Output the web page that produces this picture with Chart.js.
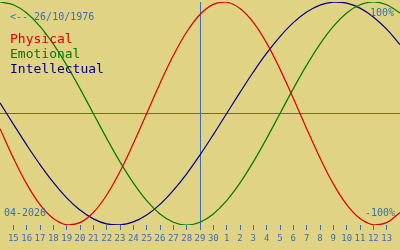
<!DOCTYPE html>
<html>
<head>
<meta charset="utf-8">
<script src="https://cdn.jsdelivr.net/npm/chart.js@4/dist/chart.umd.min.js"></script>
<style>
  html, body { margin: 0; padding: 0; background: #e1d384; }
  #wrap { width: 400px; height: 250px; position: relative; }
</style>
</head>
<body>
<div id="wrap"><canvas id="bio" width="400" height="250"></canvas></div>
<script>
// one point per day, 14 Apr .. 14 May 2026
var dayLabels = ['14','15','16','17','18','19','20','21','22','23','24','25','26','27','28','29','30',
                 '1','2','3','4','5','6','7','8','9','10','11','12','13','14'];
var physical = [-0.136, -0.398, -0.631, -0.817, -0.942, -0.998, -0.979, -0.888, -0.731, -0.520, -0.270, 0,
                0.270, 0.520, 0.731, 0.888, 0.979, 0.998, 0.942, 0.817, 0.631, 0.398, 0.136, -0.136,
                -0.398, -0.631, -0.817, -0.942, -0.998, -0.979, -0.888];
var emotional = [1.0, 0.975, 0.901, 0.782, 0.623, 0.434, 0.223, 0, -0.223, -0.434, -0.623, -0.782, -0.901,
                 -0.975, -1.0, -0.975, -0.901, -0.782, -0.623, -0.434, -0.223, 0, 0.223, 0.434, 0.623,
                 0.782, 0.901, 0.975, 1.0, 0.975, 0.901];
var intellectual = [0.095, -0.095, -0.282, -0.458, -0.618, -0.756, -0.866, -0.945, -0.990, -0.999, -0.972,
                    -0.910, -0.815, -0.690, -0.541, -0.372, -0.189, 0, 0.189, 0.372, 0.541, 0.690, 0.815,
                    0.910, 0.972, 0.999, 0.990, 0.945, 0.866, 0.756, 0.618];
var todayIndex = 15; // 29
var birthText = '<-- 26/10/1976';
var monthText = '04-2026';

var BLUE = '#3a6db3';
var mono = '"DejaVu Sans Mono", monospace';

function toPoints(arr) {
  return arr.map(function(v, i) { return { x: i, y: v }; });
}

function series(label, values, color) {
  return {
    label: label,
    data: toPoints(values),
    borderColor: color,
    borderWidth: 1.2,
    pointRadius: 0,
    tension: 0.4,
    fill: false
  };
}

var textPlugin = {
  id: 'bioText',
  afterDraw: function(chart) {
    var ctx = chart.ctx;
    ctx.save();
    ctx.textBaseline = 'alphabetic';
    ctx.font = '10px ' + mono;
    ctx.fillStyle = BLUE;
    ctx.textAlign = 'left';
    ctx.fillText(birthText, 10, 20);
    ctx.fillText(monthText, 4, 216);
    ctx.textAlign = 'right';
    ctx.fillText('100%', 394, 16);
    ctx.fillText('-100%', 395, 216);

    ctx.textAlign = 'left';
    ctx.font = '13px ' + mono;
    chart.data.datasets.forEach(function(ds, i) {
      ctx.fillStyle = ds.borderColor;
      ctx.fillText(ds.label, 10, 43 + i * 15);
    });
    ctx.restore();
  }
};

new Chart(document.getElementById('bio'), {
  type: 'line',
  data: {
    datasets: [
      series('Physical', physical, '#d80000'),
      series('Emotional', emotional, '#007a00'),
      series('Intellectual', intellectual, '#000080')
    ]
  },
  options: {
    responsive: false,
    animation: false,
    layout: { padding: { top: 2, left: 0, right: 0, bottom: 0 } },
    plugins: { legend: { display: false }, tooltip: { enabled: false } },
    scales: {
      x: {
        type: 'linear',
        min: 0,
        max: dayLabels.length - 1,
        afterBuildTicks: function(scale) {
          var t = [];
          for (var i = 1; i < dayLabels.length - 1; i++) t.push({ value: i });
          scale.ticks = t;
        },
        afterFit: function(scale) { scale.height = 25; },
        border: { display: false },
        grid: {
          color: function(c) { return c.tick && c.tick.value === todayIndex ? BLUE : 'transparent'; },
          tickColor: BLUE,
          tickLength: 5,
          lineWidth: 1
        },
        ticks: {
          autoSkip: false,
          maxRotation: 0,
          padding: 3,
          color: BLUE,
          font: { family: mono, size: 9 },
          callback: function(v) { return dayLabels[v]; }
        }
      },
      y: {
        min: -1,
        max: 1,
        afterBuildTicks: function(scale) { scale.ticks = [{ value: 0 }]; },
        afterFit: function(scale) { scale.width = 0; },
        border: { display: false },
        grid: { color: BLUE, drawTicks: false, lineWidth: 1 },
        ticks: { display: false }
      }
    }
  },
  plugins: [textPlugin]
});
</script>
</body>
</html>
